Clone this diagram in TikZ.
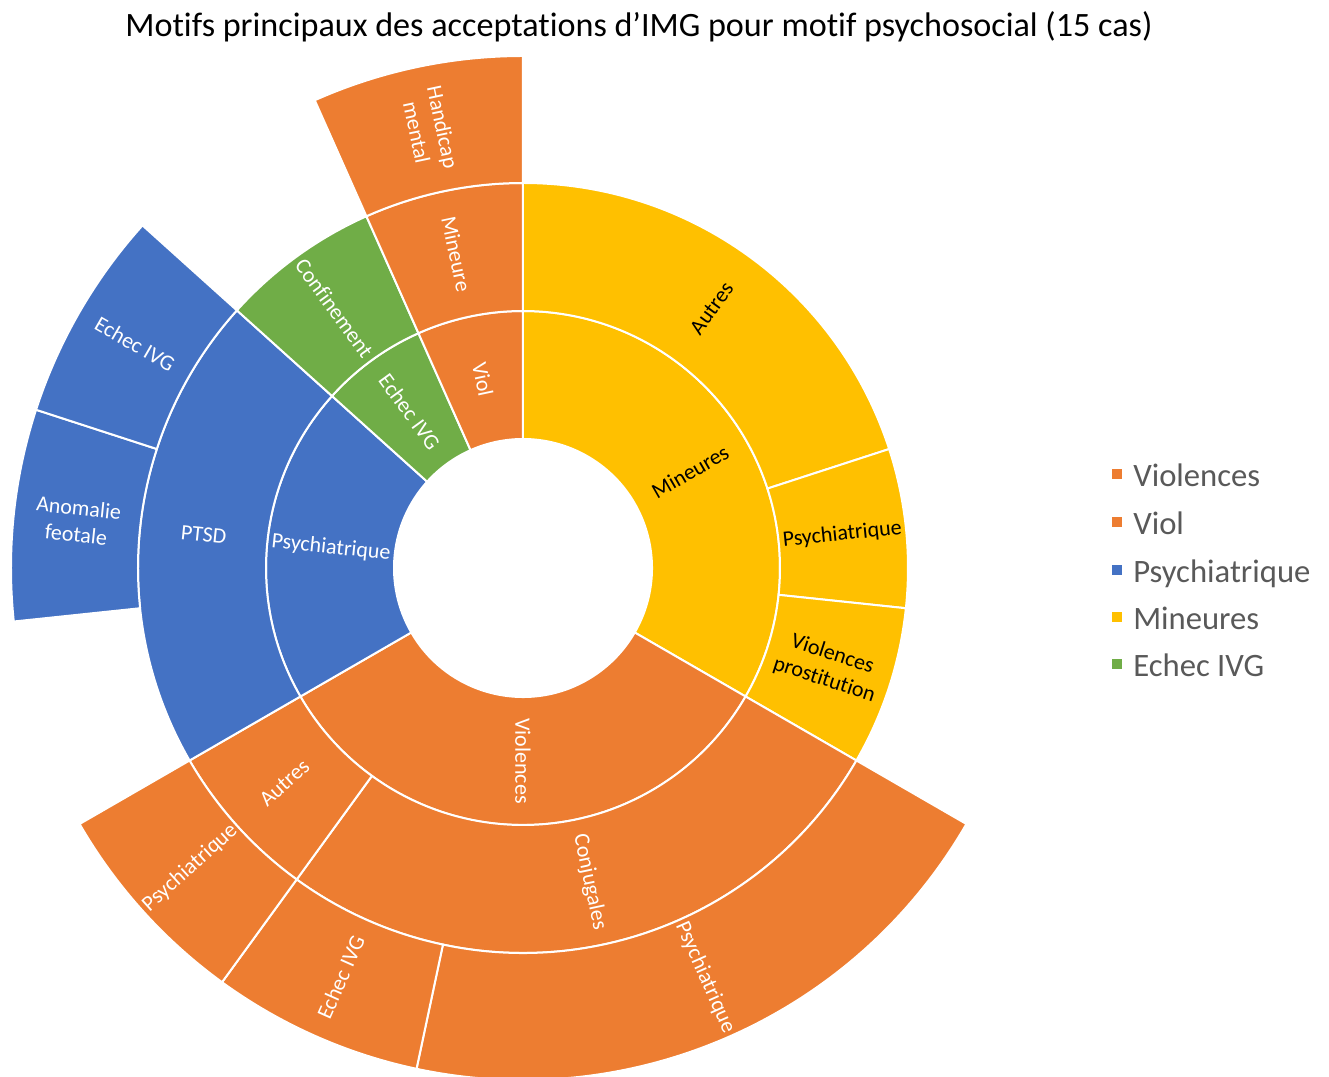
\documentclass[tikz,border=0pt]{standalone}
\usepackage{fontspec}
\setmainfont[Ligatures=NoCommon]{Carlito}
\definecolor{segorange}{HTML}{ED7D31}
\definecolor{segblue}{HTML}{4472C4}
\definecolor{segyellow}{HTML}{FFC000}
\definecolor{seggreen}{HTML}{70AD47}
\definecolor{leggray}{HTML}{595959}
\tikzset{
	seg/.style={draw=white, line width=1.5pt, line join=round},
	lblw/.style={text=white, font=\fontsize{16.5}{20}\selectfont, align=center, inner sep=0pt},
	lblk/.style={lblw, text=black},
	legbox/.style={minimum size=7.5pt, inner sep=0pt},
	legtxt/.style={text=leggray, font=\fontsize{24.5}{29}\selectfont, anchor=base west, inner sep=0pt}
}
% ring segment: inner radius, outer radius, start angle, end angle, colour
\newcommand{\ringseg}[5]{%
	\filldraw[seg, fill=#5] (#3:#1) arc[start angle=#3, end angle=#4, radius=#1]
		-- (#4:#2) arc[start angle=#4, end angle=#3, radius=#2] -- cycle;}
\begin{document}
\begin{tikzpicture}[x=0.75pt, y=0.75pt]
	\useasboundingbox (-523, -509) rectangle (806, 568);
		% inner ring
		\ringseg{129}{257}{-30}{90}{segyellow}
		\ringseg{129}{257}{-150}{-30}{segorange}
		\ringseg{129}{257}{138}{210}{segblue}
		\ringseg{129}{257}{114}{138}{seggreen}
		\ringseg{129}{257}{90}{114}{segorange}
		% middle ring
		\ringseg{257}{385}{18}{90}{segyellow}
		\ringseg{257}{385}{-6}{18}{segyellow}
		\ringseg{257}{385}{-30}{-6}{segyellow}
		\ringseg{257}{385}{-126}{-30}{segorange}
		\ringseg{257}{385}{-150}{-126}{segorange}
		\ringseg{257}{385}{138}{210}{segblue}
		\ringseg{257}{385}{114}{138}{seggreen}
		\ringseg{257}{385}{90}{114}{segorange}
		% outer ring
		\ringseg{385}{512}{-102}{-30}{segorange}
		\ringseg{385}{512}{-126}{-102}{segorange}
		\ringseg{385}{512}{-150}{-126}{segorange}
		\ringseg{385}{512}{162}{186}{segblue}
		\ringseg{385}{512}{138}{162}{segblue}
		\ringseg{385}{512}{90}{114}{segorange}
		% labels, inner ring
		\node[lblk, rotate=30] (mineures) at (30:193) {Mineures};
		\node[lblw, rotate=-90] (violences) at (270:193) {Violences};
		\node[lblw, rotate=-6] (psy) at (174:193) {Psychiatrique};
		\node[lblw, rotate=-54] (echec) at (126:193) {Echec IVG};
		\node[lblw, rotate=-78] (viol) at (102:193) {Viol};
		% labels, middle ring
		\node[lblk, rotate=54] (min-autres) at (54:321) {Autres};
		\node[lblk, rotate=6] (min-psy) at (6:321) {Psychiatrique};
		\node[lblk, rotate=-18] (min-prost) at (-18:321) {Violences\\prostitution};
		\node[lblw, rotate=-78] (vio-conj) at (282:321) {Conjugales};
		\node[lblw, rotate=42] (vio-autres) at (222:321) {Autres};
		\node[lblw, rotate=-6] (psy-ptsd) at (174:321) {PTSD};
		\node[lblw, rotate=-54] (echec-conf) at (126:321) {Confinement};
		\node[lblw, rotate=-78] (viol-min) at (102:321) {Mineure};
		% labels, outer ring
		\node[lblw, rotate=-66] (conj-psy) at (294:448) {Psychiatrique};
		\node[lblw, rotate=66] (conj-echec) at (246:448) {Echec IVG};
		\node[lblw, rotate=42] (autres-psy) at (222:448) {Psychiatrique};
		\node[lblw, rotate=-6] (ptsd-anom) at (174:448) {Anomalie\\feotale};
		\node[lblw, rotate=-30] (ptsd-echec) at (150:448) {Echec IVG};
		\node[lblw, rotate=-78] (min-handi) at (102:448) {Handicap\\mental};
		% title
		\node[anchor=base, font=\fontsize{25.6}{31}\selectfont, inner sep=0pt] (title) at (116, 531)
			{Motifs principaux des acceptations d’IMG pour motif psychosocial (15 cas)};
		% legend
		\node[legbox, fill=segorange] (k1) at (594, 94) {};
		\node[legtxt] (t1) at (610, 81) {Violences};
		\node[legbox, fill=segorange] (k2) at (594, 46) {};
		\node[legtxt] (t2) at (610, 33) {Viol};
		\node[legbox, fill=segblue] (k3) at (594, -2) {};
		\node[legtxt] (t3) at (610, -15) {Psychiatrique};
		\node[legbox, fill=segyellow] (k4) at (594, -49) {};
		\node[legtxt] (t4) at (610, -62) {Mineures};
		\node[legbox, fill=seggreen] (k5) at (594, -96) {};
		\node[legtxt] (t5) at (610, -109) {Echec IVG};
	\end{tikzpicture}
\end{document}
